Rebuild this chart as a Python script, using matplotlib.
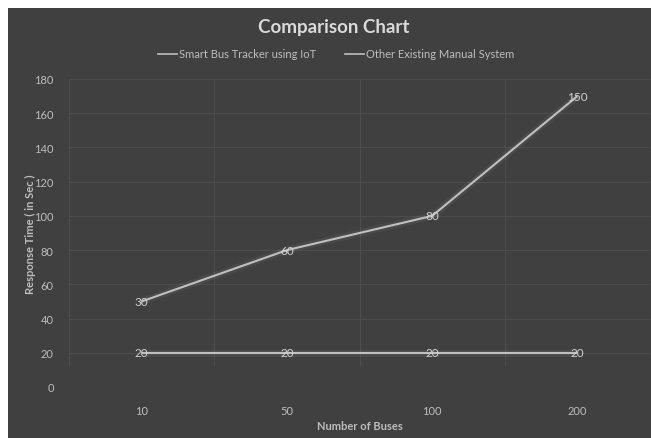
import matplotlib
matplotlib.use("Agg")
import matplotlib.pyplot as plt
from matplotlib.patches import Rectangle
from matplotlib.lines import Line2D
import numpy as np

categories = ["10", "50", "100", "200"]
smart_bus = [30, 60, 80, 150]
manual_system = [20, 20, 20, 20]
series_names = ["Smart Bus Tracker using IoT", "Other Existing Manual System"]
y_ticks = [0, 20, 40, 60, 80, 100, 120, 140, 160, 180]

plt.rcParams["font.family"] = ["Lato", "DejaVu Sans"]

BG = "#404040"
GRID = "#4d4d4d"
LINE = "#c0c0c0"
TEXT = "#bdbdbd"
LABEL = "#d0d0d0"

W, H = 651, 439
fig = plt.figure(figsize=(W / 100, H / 100), dpi=100, facecolor="white")

# dark chart-area panel, drawn beneath the axes
fig.patches.append(Rectangle((8 / W, 0.5 / H), 1 - 8 / W, 1 - 9.5 / H,
                             transform=fig.transFigure, facecolor=BG,
                             edgecolor="none", zorder=-5))

ax = fig.add_axes([69 / W, 1 - 388 / H, (650 - 69) / W, (388 - 80) / H])
ax.set_zorder(2)
ax.patch.set_alpha(0)

x = np.arange(len(categories))
# stacked line chart: the smart-tracker series sits on top of the manual one
stacked_smart = np.array(manual_system) + np.array(smart_bus)

for ys in (manual_system, stacked_smart):
    # soft glow under each line
    ax.plot(x, ys, color=LINE, lw=5, alpha=0.08, zorder=2,
            solid_capstyle="butt")
    ax.plot(x, ys, color=LINE, lw=1.5, zorder=3, solid_capstyle="butt")

for xi, v in zip(x, manual_system):
    ax.text(xi, v, str(v), ha="center", va="center", color=LABEL,
            fontsize=8.5, zorder=4)
for xi, v, top in zip(x, smart_bus, stacked_smart):
    ax.text(xi, top, str(v), ha="center", va="center", color=LABEL,
            fontsize=8.5, zorder=4)

ax.set_xlim(-0.5, len(categories) - 0.5)
ax.set_ylim(0, 180)
ax.set_yticks(y_ticks)
ax.set_xticks(x)
ax.set_xticklabels(categories)

# horizontal gridlines (none on the zero line) and category separators
for yv in y_ticks[1:]:
    ax.axhline(yv, color=GRID, lw=0.8, zorder=1)
for xb in np.arange(len(categories) + 1) - 0.5:
    ax.vlines(xb, 12, 180, color=GRID, lw=0.8, zorder=1)

for s in ax.spines.values():
    s.set_visible(False)

ax.tick_params(axis="both", which="both", length=0, colors=TEXT, labelsize=8)
ax.tick_params(axis="y", pad=11)
ax.tick_params(axis="x", pad=13)

ax.set_xlabel("Number of Buses", color=TEXT, fontsize=8, fontweight="bold",
              labelpad=3)
ax.set_ylabel("Response Time ( in Sec )", color=TEXT, fontsize=8,
              fontweight="bold", labelpad=-1)

fig.text(334 / W, 1 - 28 / H, "Comparison Chart", ha="center", va="center",
         color="#d9d9d9", fontsize=13.5, fontweight="bold")

handles = [Line2D([], [], color=LINE, lw=1.2) for _ in series_names]
fig.legend(handles, series_names, loc="center", bbox_to_anchor=(336 / W, 1 - 55 / H),
           ncol=2, frameon=False, fontsize=8, labelcolor=TEXT,
           handlelength=1.7, handletextpad=0.2, columnspacing=2.6)

fig.savefig("out.png", dpi=100, facecolor="white")
